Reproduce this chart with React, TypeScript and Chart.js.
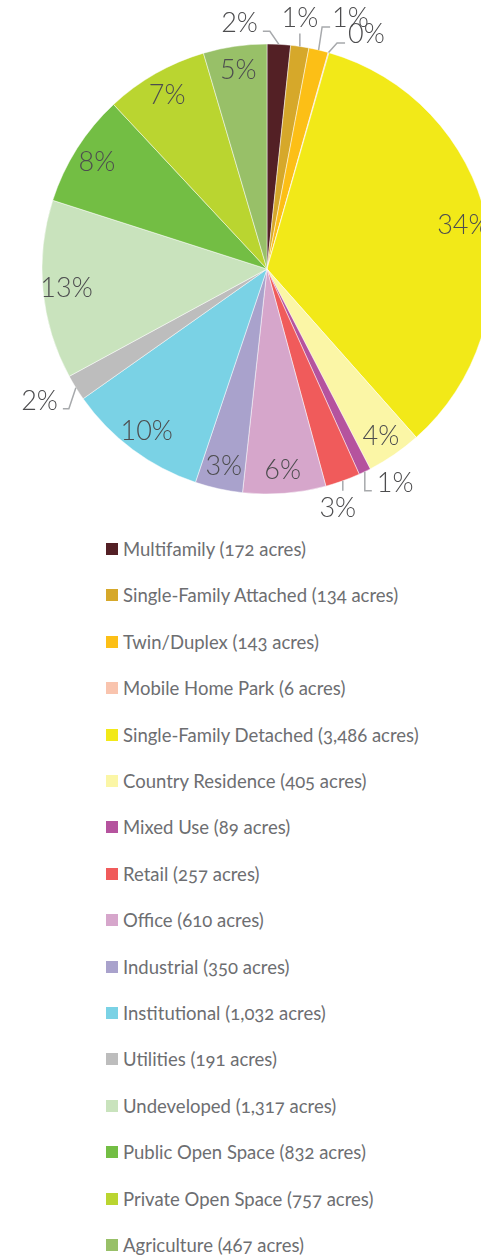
import React, { useEffect, useRef } from "react";
import { Chart, registerables } from "chart.js";

Chart.register(...registerables);

const categories = [
  "Multifamily",
  "Single-Family Attached",
  "Twin/Duplex",
  "Mobile Home Park",
  "Single-Family Detached",
  "Country Residence",
  "Mixed Use",
  "Retail",
  "Office",
  "Industrial",
  "Institutional",
  "Utilities",
  "Undeveloped",
  "Public Open Space",
  "Private Open Space",
  "Agriculture",
];

const acres = [172, 134, 143, 6, 3486, 405, 89, 257, 610, 350, 1032, 191, 1317, 832, 757, 467];

const colors = [
  "#532025",
  "#d6a82a",
  "#fcbf16",
  "#f9c4ae",
  "#f2e918",
  "#fbf6a6",
  "#b5539e",
  "#f05b5b",
  "#d6a6cb",
  "#a9a2cc",
  "#7ad2e5",
  "#bdbdbd",
  "#c9e3bd",
  "#73be44",
  "#bad530",
  "#98c068",
];

// callout layout for small slices (offsets relative to the slice's outer edge)
type Callout = { ex: number; ey: number; run: number; anchor: "left" | "right" | "center"; tx: number; ty: number };
const callouts: Record<number, Callout> = {
  0: { ex: -9, ey: -13, run: -7, anchor: "right", tx: -5, ty: 1 },
  1: { ex: 0, ey: -13, run: 0, anchor: "center", tx: 0, ty: -6 },
  2: { ex: 3.5, ey: -23, run: 8, anchor: "left", tx: 2, ty: 0 },
  3: { ex: 8.5, ey: -9.5, run: 8, anchor: "left", tx: 3, ty: 0 },
  6: { ex: 0, ey: 19, run: 7, anchor: "left", tx: 5, ty: 1 },
  7: { ex: 0, ey: 10, run: 0, anchor: "center", tx: -5, ty: 26 },
  11: { ex: -7, ey: 21, run: -6, anchor: "right", tx: -5, ty: 1 },
};

const LABEL_FONT = 27;
const LABEL_COLOR = "#4d4d4f";
const LEADER_COLOR = "#a7a9ac";

const pctLabelsPlugin = {
  id: "pctLabels",
  afterDatasetsDraw(chart: any) {
    const ctx = chart.ctx as CanvasRenderingContext2D;
    const meta = chart.getDatasetMeta(0);
    const data = chart.data.datasets[0].data as number[];
    const total = data.reduce((a, b) => a + b, 0);
    ctx.save();
    ctx.font = `300 ${LABEL_FONT}px Lato, "Noto Sans", sans-serif`;
    ctx.fillStyle = LABEL_COLOR;
    const cap = LABEL_FONT * 0.7165;
    meta.data.forEach((arc: any, i: number) => {
      const { x, y, startAngle, endAngle, outerRadius } = arc.getProps(
        ["x", "y", "startAngle", "endAngle", "outerRadius"],
        true
      );
      const mid = (startAngle + endAngle) / 2;
      const text = Math.round((data[i] / total) * 100) + "%";
      const co = callouts[i];
      if (!co) {
        const r = outerRadius * 0.895;
        const cx = x + Math.cos(mid) * r;
        const cy = y + Math.sin(mid) * r;
        ctx.textAlign = "center";
        ctx.textBaseline = "alphabetic";
        ctx.fillText(text, cx, cy + cap / 2);
      } else {
        const sx = x + Math.cos(mid) * outerRadius;
        const sy = y + Math.sin(mid) * outerRadius;
        const exx = sx + co.ex;
        const eyy = sy + co.ey;
        const endx = exx + co.run;
        ctx.strokeStyle = LEADER_COLOR;
        ctx.lineWidth = 1.5;
        ctx.beginPath();
        ctx.moveTo(sx, sy);
        ctx.lineTo(exx, eyy);
        if (co.run !== 0) ctx.lineTo(endx, eyy);
        ctx.stroke();
        ctx.textAlign = co.anchor;
        ctx.textBaseline = "alphabetic";
        ctx.fillText(text, endx + co.tx, eyy + co.ty);
      }
    });
    ctx.restore();
  },
};

export default function App() {
  const canvasRef = useRef<HTMLCanvasElement | null>(null);

  useEffect(() => {
    if (!canvasRef.current) return;
    const chart = new Chart(canvasRef.current, {
      type: "pie",
      data: {
        labels: categories,
        datasets: [
          {
            data: acres,
            backgroundColor: colors,
            borderColor: "rgba(255,255,255,0.6)",
            borderWidth: 0.8,
            radius: 225,
          } as any,
        ],
      },
      options: {
        responsive: false,
        animation: false,
        layout: { padding: 0 },
        plugins: {
          legend: { display: false },
          tooltip: { enabled: false },
        },
      },
      plugins: [pctLabelsPlugin],
    });
    return () => chart.destroy();
  }, []);

  const legendTop = 549;
  const legendStep = 46.4;

  return (
    <div
      style={{
        position: "fixed",
        left: 0,
        top: 0,
        width: 481,
        height: 1256,
        overflow: "hidden",
        background: "#ffffff",
      }}
    >
      <canvas
        ref={canvasRef}
        width={534}
        height={538}
        style={{ position: "absolute", left: 0, top: 0, width: 534, height: 538, display: "block" }}
      />
      {categories.map((c, i) => (
        <div
          key={c}
          style={{
            position: "absolute",
            left: 106,
            top: legendTop - 10 + i * legendStep,
            height: 20,
            display: "flex",
            alignItems: "center",
            whiteSpace: "nowrap",
          }}
        >
          <span style={{ width: 12, height: 12, background: colors[i], display: "inline-block" }} />
          <span
            style={{
              marginLeft: 5,
              fontFamily: "Lato, 'Noto Sans', sans-serif",
              fontSize: 18.5,
              lineHeight: "20px",
              color: "#6d6e71",
              fontVariantNumeric: "oldstyle-nums",
            }}
          >
            {c} ({acres[i].toLocaleString("en-US")} acres)
          </span>
        </div>
      ))}
    </div>
  );
}
